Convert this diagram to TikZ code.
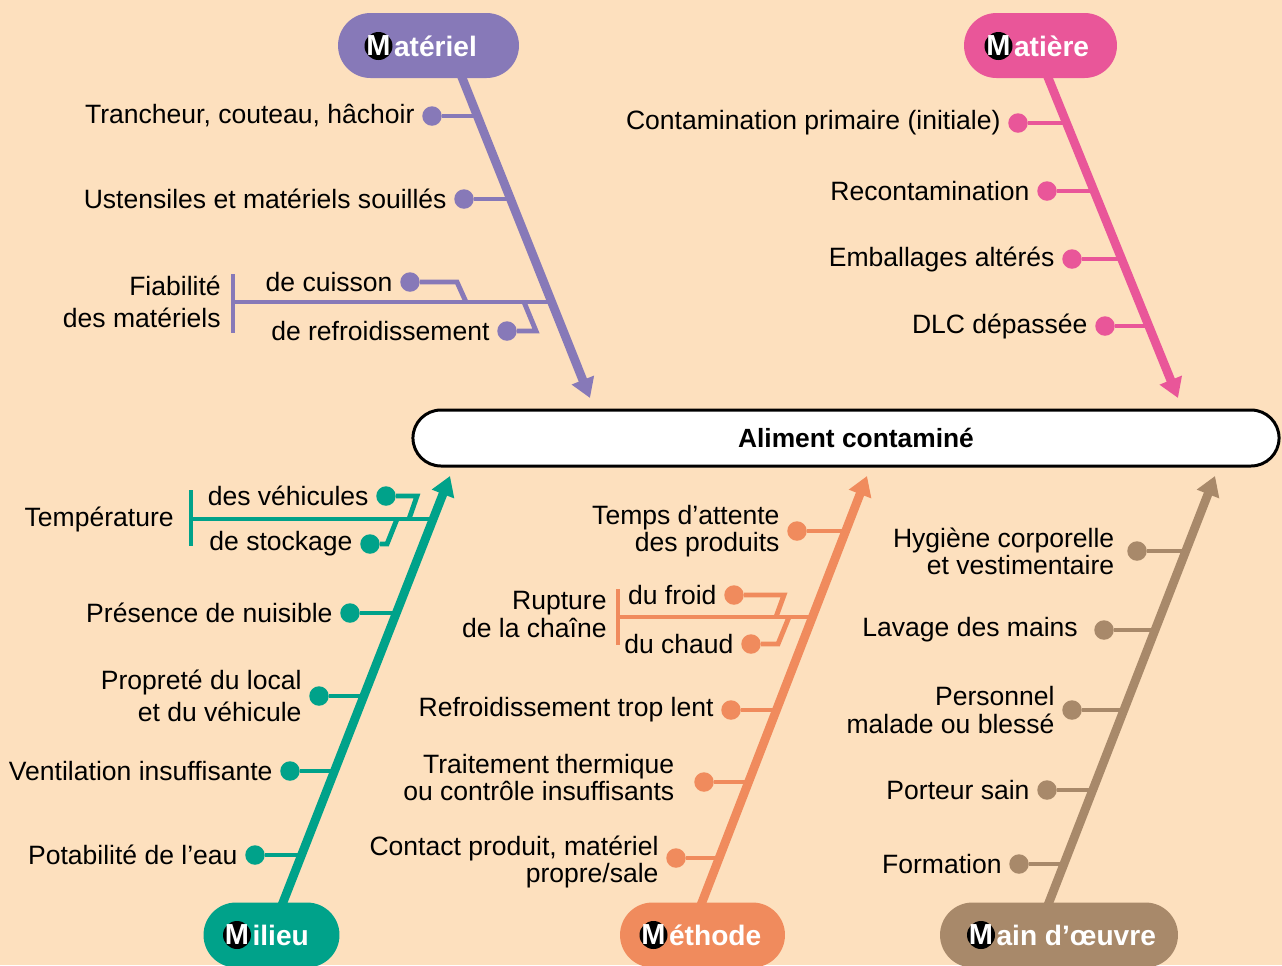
\documentclass[tikz,border=0pt]{standalone}
\usepackage{fontspec}
\setmainfont{Liberation Sans}
\usetikzlibrary{arrows.meta, positioning, shapes.misc, calc}

\definecolor{bgpeach}{RGB}{253,224,190}
\definecolor{materielcol}{RGB}{135,121,184}
\definecolor{matierecol}{RGB}{233,86,153}
\definecolor{milieucol}{RGB}{0,162,138}
\definecolor{methodecol}{RGB}{240,139,93}
\definecolor{maincol}{RGB}{168,137,106}

\begin{document}
\begin{tikzpicture}[
  x=0.02cm, y=-0.02cm,
  spine/.style = {line width=5pt, -{Triangle[length=11pt, width=13pt]}},
  branch/.style = {line width=2.8pt},
  bar/.style = {line width=2.8pt},
  dot/.style = {circle, fill=#1, inner sep=0pt, minimum size=0.39cm},
  cause/.style = {font=\fontsize{15.1}{15.5}\selectfont, align=right, inner sep=4pt},
  widecause/.style = {cause, font=\fontsize{15.1}{18.2}\selectfont},
  pill/.style = {rounded rectangle, fill=#1, minimum height=1.3cm, inner sep=0pt},
  mball/.style = {circle, fill=black, text=white, inner sep=-1pt, minimum size=0.56cm, font=\fontsize{16.5}{16.5}\selectfont\bfseries},
  headtext/.style = {text=white, inner sep=0pt, font=\fontsize{16}{16}\selectfont\bfseries},
  effect/.style = {rounded rectangle, draw, line width=1.7pt, fill=white, minimum width=17.56cm, minimum height=1.12cm}
]

% Background
\fill[bgpeach] (0,0) rectangle (1282,965);
\useasboundingbox (0,0) rectangle (1282,965);

% Effect
\node[effect] (alim) at (846,438) {};
\node[font=\fontsize{15}{15}\selectfont\bfseries] (alimtext) at (856,438) {Aliment contaminé};

% Materiel
\coordinate (matA) at (459,70);
\coordinate (matZ) at (590,398);
\node[dot=materielcol] (mat1) at (432,116) {};
\node[cause, left=0pt of mat1] (mat1t) {Trancheur, couteau, hâchoir};
\coordinate (mat1s) at (478,116);
\node[dot=materielcol] (mat2) at (464,199) {};
\node[cause, left=0pt of mat2] (mat2t) {Ustensiles et matériels souillés};
\coordinate (mat2s) at (511,199);
\draw[branch, materielcol] (mat1) -- (mat1s);
\draw[branch, materielcol] (mat2) -- (mat2s);

% Fiabilite group
\coordinate (fiabT) at (233,274);
\coordinate (fiabB) at (233,333);
\coordinate (fiabL) at (233,302);
\coordinate (fiabR) at (552,302);
\node[widecause, left=2.8pt of fiabL] (fiab) {Fiabilité\\des matériels};
\node[dot=materielcol] (cuis) at (410,282) {};
\node[cause, left=0pt of cuis] (cuist) {de cuisson};
\coordinate (cuisK) at (457,282);
\coordinate (cuisJ) at (466,302);
\node[dot=materielcol] (refr) at (507,331) {};
\node[cause, left=0pt of refr] (refrt) {de refroidissement};
\coordinate (refrK) at (536,331);
\coordinate (refrJ) at (524,302);
\draw[bar, materielcol] (fiabT) -- (fiabB);
\draw[branch, materielcol] (fiabL) -- (fiabR);
\draw[branch, materielcol] (cuis) -- (cuisK) -- (cuisJ);
\draw[branch, materielcol] (refr) -- (refrK) -- (refrJ);

\draw[spine, materielcol] (matA) -- (matZ);
\node[pill=materielcol, minimum width=3.62cm] (mat) at (428.5,45.5) {};
\node[mball] (matM) at (378.5,46) {M};
\node[headtext, right=0.5pt of matM] (matT) {atériel};

% Matiere
\coordinate (maeA) at (1045,70);
\coordinate (maeZ) at (1178,398);
\node[dot=matierecol] (mae1) at (1018,123) {};
\node[cause, left=0pt of mae1] (mae1t) {Contamination primaire (initiale)};
\coordinate (mae1s) at (1067,123);
\node[dot=matierecol] (mae2) at (1047,191) {};
\node[cause, left=0pt of mae2] (mae2t) {Recontamination};
\coordinate (mae2s) at (1094,191);
\node[dot=matierecol] (mae3) at (1072,259) {};
\node[cause, left=0pt of mae3] (mae3t) {Emballages altérés};
\coordinate (mae3s) at (1122,259);
\node[dot=matierecol] (mae4) at (1105,326) {};
\node[cause, left=0pt of mae4] (mae4t) {DLC dépassée};
\coordinate (mae4s) at (1149,326);
\draw[branch, matierecol] (mae1) -- (mae1s);
\draw[branch, matierecol] (mae2) -- (mae2s);
\draw[branch, matierecol] (mae3) -- (mae3s);
\draw[branch, matierecol] (mae4) -- (mae4s);

\draw[spine, matierecol] (maeA) -- (maeZ);
\node[pill=matierecol, minimum width=3.06cm] (mae) at (1040.5,45.5) {};
\node[mball] (maeM) at (998.5,46) {M};
\node[headtext, right=0.5pt of maeM] (maeT) {atière};

% Milieu
\coordinate (milA) at (280,910);
\coordinate (milZ) at (450,476);

% Temperature group
\coordinate (tempT) at (191,490);
\coordinate (tempB) at (191,546);
\coordinate (tempL) at (191,519);
\coordinate (tempR) at (433,519);
\node[cause, left=5.7pt of tempL] (temp) {Température};
\node[dot=milieucol] (tveh) at (386,496) {};
\node[cause, left=0pt of tveh] (tveht) {des véhicules};
\coordinate (tvehK) at (417,496);
\coordinate (tvehJ) at (409,519);
\node[dot=milieucol] (tsto) at (370,544) {};
\node[cause, left=0pt of tsto] (tstot) {de stockage};
\coordinate (tstoK) at (387,544);
\coordinate (tstoJ) at (397,519);
\draw[bar, milieucol] (tempT) -- (tempB);
\draw[branch, milieucol] (tempL) -- (tempR);
\draw[branch, milieucol] (tveh) -- (tvehK) -- (tvehJ);
\draw[branch, milieucol] (tsto) -- (tstoK) -- (tstoJ);

\node[dot=milieucol] (mil1) at (350,613) {};
\node[cause, left=0pt of mil1] (mil1t) {Présence de nuisible};
\coordinate (mil1s) at (396,613);
\node[dot=milieucol] (mil2) at (319,696) {};
\node[widecause, left=0pt of mil2] (mil2t) {Propreté du local\\et du véhicule};
\coordinate (mil2s) at (364,696);
\node[dot=milieucol] (mil3) at (290,771) {};
\node[cause, left=0pt of mil3] (mil3t) {Ventilation insuffisante};
\coordinate (mil3s) at (335,771);
\node[dot=milieucol] (mil4) at (255,855) {};
\node[cause, left=0pt of mil4] (mil4t) {Potabilité de l’eau};
\coordinate (mil4s) at (302,855);
\draw[branch, milieucol] (mil1) -- (mil1s);
\draw[branch, milieucol] (mil2) -- (mil2s);
\draw[branch, milieucol] (mil3) -- (mil3s);
\draw[branch, milieucol] (mil4) -- (mil4s);

\draw[spine, milieucol] (milA) -- (milZ);
\node[pill=milieucol, minimum width=2.72cm] (mil) at (271.5,935) {};
\node[mball] (milM) at (237,935) {M};
\node[headtext, right=0.5pt of milM] (milT) {ilieu};

% Methode
\coordinate (metA) at (699,910);
\coordinate (metZ) at (867,476);
\node[dot=methodecol] (met1) at (797,531) {};
\node[cause, left=0pt of met1] (met1t) {Temps d’attente\\des produits};
\coordinate (met1s) at (845,531);

% Rupture group
\coordinate (rupT) at (618,589);
\coordinate (rupB) at (618,645);
\coordinate (rupL) at (618,617);
\coordinate (rupR) at (812,617);
\node[cause, left=2.3pt of rupL, yshift=1.4pt] (rup) {Rupture\\de la chaîne};
\node[dot=methodecol] (froid) at (734,595) {};
\node[cause, left=0pt of froid] (froidt) {du froid};
\coordinate (froidK) at (784,595);
\coordinate (froidJ) at (776,617);
\node[dot=methodecol] (chaud) at (751,644) {};
\node[cause, left=0pt of chaud] (chaudt) {du chaud};
\coordinate (chaudK) at (778,644);
\coordinate (chaudJ) at (789,617);
\draw[bar, methodecol] (rupT) -- (rupB);
\draw[branch, methodecol] (rupL) -- (rupR);
\draw[branch, methodecol] (froid) -- (froidK) -- (froidJ);
\draw[branch, methodecol] (chaud) -- (chaudK) -- (chaudJ);

\node[dot=methodecol] (met2) at (731,710) {};
\node[cause, left=0pt of met2] (met2t) {Refroidissement trop lent};
\coordinate (met2s) at (776,710);
\node[dot=methodecol] (met3) at (704,782) {};
\node[cause, left=7pt of met3, yshift=2.4pt] (met3t) {Traitement thermique\\ou contrôle insuffisants};
\coordinate (met3s) at (749,782);
\node[dot=methodecol] (met4) at (676,858) {};
\node[cause, left=0pt of met4, yshift=-2.2pt] (met4t) {Contact produit, matériel\\propre/sale};
\coordinate (met4s) at (719,858);
\draw[branch, methodecol] (met1) -- (met1s);
\draw[branch, methodecol] (met2) -- (met2s);
\draw[branch, methodecol] (met3) -- (met3s);
\draw[branch, methodecol] (met4) -- (met4s);

\draw[spine, methodecol] (metA) -- (metZ);
\node[pill=methodecol, minimum width=3.3cm] (met) at (702.5,935) {};
\node[mball] (metM) at (653.5,935) {M};
\node[headtext, right=0.5pt of metM] (metT) {éthode};

% Main d'oeuvre
\coordinate (mdoA) at (1046,910);
\coordinate (mdoZ) at (1215,476);
\node[dot=maincol] (mdo1) at (1137,551) {};
\node[cause, left=3pt of mdo1] (mdo1t) {Hygiène corporelle\\et vestimentaire};
\coordinate (mdo1s) at (1186,551);
\node[dot=maincol] (mdo2) at (1104,630) {};
\node[cause, left=5pt of mdo2] (mdo2t) {Lavage des mains};
\coordinate (mdo2s) at (1155,630);
\node[dot=maincol] (mdo3) at (1072,710) {};
\node[cause, left=0pt of mdo3] (mdo3t) {Personnel\\malade ou blessé};
\coordinate (mdo3s) at (1124,710);
\node[dot=maincol] (mdo4) at (1047,790) {};
\node[cause, left=0pt of mdo4] (mdo4t) {Porteur sain};
\coordinate (mdo4s) at (1093,790);
\node[dot=maincol] (mdo5) at (1019,864) {};
\node[cause, left=0pt of mdo5] (mdo5t) {Formation};
\coordinate (mdo5s) at (1064,864);
\draw[branch, maincol] (mdo1) -- (mdo1s);
\draw[branch, maincol] (mdo2) -- (mdo2s);
\draw[branch, maincol] (mdo3) -- (mdo3s);
\draw[branch, maincol] (mdo4) -- (mdo4s);
\draw[branch, maincol] (mdo5) -- (mdo5s);

\draw[spine, maincol] (mdoA) -- (mdoZ);
\node[pill=maincol, minimum width=4.76cm] (mdo) at (1059,935) {};
\node[mball] (mdoM) at (981,935) {M};
\node[headtext, right=0.5pt of mdoM] (mdoT) {ain d’œuvre};

\end{tikzpicture}
\end{document}
